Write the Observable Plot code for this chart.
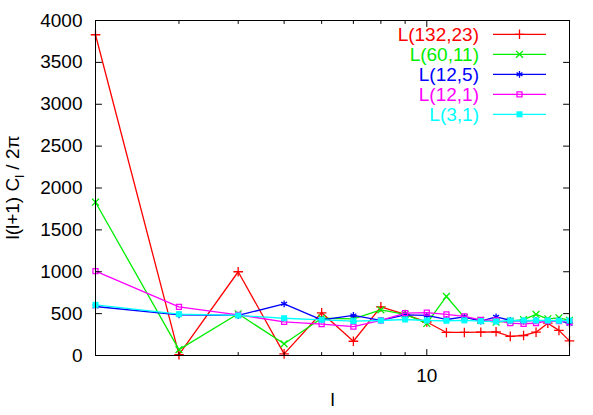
<!DOCTYPE html>
<html><head><meta charset="utf-8">
<script src="https://cdn.jsdelivr.net/npm/d3@7"></script>
<script src="https://cdn.jsdelivr.net/npm/@observablehq/plot@0.6"></script>
<style>body{margin:0;background:#fff}</style>
</head><body><div id="chart"></div>
<script>
// multipole l
const ells = [2,3,4,5,6,7,8,9,10,11,12,13,14,15,16,17,18,19,20];
// series
const seriesNames = ["L(132,23)","L(60,11)","L(12,5)","L(12,1)","L(3,1)"];
const seriesColors = ["#ff0000","#00ee00","#0000ff","#ff00ff","#00ffff"];
const seriesSymbols = ["plus","times","asterisk","square2","square"];
const valsL132_23 = [3830,10,1000,20,510,170,580,490,400,275,275,278,283,228,239,278,386,300,175];
const valsL60_11  = [1830,70,498,140,445,438,545,490,383,705,455,420,398,410,428,490,438,450,420];
const valsL12_5   = [585,486,478,617,425,478,420,486,478,430,462,410,462,420,410,420,410,418,378];
const valsL12_1   = [1007,581,486,402,374,345,420,507,512,490,466,425,420,386,378,388,410,410,398];
const valsL3_1    = [605,493,478,445,426,410,418,430,418,415,420,410,405,418,418,418,418,415,418];
const seriesValues = [valsL132_23, valsL60_11, valsL12_5, valsL12_1, valsL3_1];
// ticks
const yTicks = [0,500,1000,1500,2000,2500,3000,3500,4000];
const xMajorTicks = [10];
const xMinorTicks = [3,4,5,6,7,8,9];

const tables = seriesValues.map((vals, s) => ells.map((l, i) => ({l, v: vals[i], s})));

const tickShape = {draw(ctx, l) { ctx.moveTo(0, 0); ctx.lineTo(0, -l); }};
const tickOpts = {anchor: "start", shape: tickShape, stroke: "black", strokeWidth: 1};
const LW = 1.3;

const marks = [];
tables.forEach((data, s) => {
  marks.push(Plot.line(data, {x: "l", y: "v", stroke: seriesColors[s], strokeWidth: LW}));
  const filled = seriesSymbols[s] === "square";
  marks.push(Plot.dot(data, {
    x: "l", y: "v", symbol: seriesSymbols[s],
    r: filled ? 3.4 : 3.2,
    fill: filled ? seriesColors[s] : "none",
    stroke: filled ? "none" : seriesColors[s],
    strokeWidth: LW
  }));
});

const chart = Plot.plot({
  width: 593, height: 415,
  marginTop: 20, marginRight: 24, marginBottom: 60, marginLeft: 95,
  style: {fontFamily: "'Liberation Sans', Arial, Helvetica, sans-serif", fontSize: "19px", background: "white", color: "black"},
  x: {type: "log", domain: [2, 20], axis: null},
  y: {domain: [0, 4000], axis: null},
  marks: [
    ...marks,
    Plot.frame({stroke: "black", strokeWidth: 1}),
    // inward ticks
    Plot.vectorY(yTicks, {...tickOpts, frameAnchor: "left", rotate: 90, length: 6}),
    Plot.vectorY(yTicks, {...tickOpts, frameAnchor: "right", rotate: 270, length: 6}),
    Plot.vectorX(xMajorTicks, {...tickOpts, frameAnchor: "bottom", rotate: 0, length: 6}),
    Plot.vectorX(xMajorTicks, {...tickOpts, frameAnchor: "top", rotate: 180, length: 6}),
    Plot.vectorX(xMinorTicks, {...tickOpts, frameAnchor: "bottom", rotate: 0, length: 3}),
    Plot.vectorX(xMinorTicks, {...tickOpts, frameAnchor: "top", rotate: 180, length: 3}),
    Plot.axisY(yTicks, {tickSize: 0, tickPadding: 13, label: null, fontSize: 19, tickFormat: d => String(d)}),
    Plot.axisX(xMajorTicks, {tickSize: 0, tickPadding: 13, label: null, fontSize: 19, tickFormat: d => String(d)}),
    Plot.text(["l"], {frameAnchor: "bottom", dy: 50, fontSize: 19, fill: "black"})
  ]
});
document.getElementById("chart").appendChild(chart);

const svg = d3.select(chart);
// y label with subscript
const yl = svg.append("text")
  .attr("transform", "translate(19,187.5) rotate(-90)")
  .attr("text-anchor", "middle")
  .attr("font-size", 19)
  .attr("fill", "black");
yl.append("tspan").text("l(l+1) C");
yl.append("tspan").attr("dy", 5).attr("font-size", 13).text("l");
yl.append("tspan").attr("dy", -5).attr("font-size", 19).text("\u00a0/ 2\u03c0");

// legend
const symMap = {plus: d3.symbolPlus, times: d3.symbolTimes, asterisk: d3.symbolAsterisk, square2: d3.symbolSquare2, square: d3.symbolSquare};
const lg = svg.append("g");
seriesNames.forEach((name, i) => {
  const y = 34.3 + 20 * i;
  lg.append("text").attr("x", 479).attr("y", y).attr("dy", "0.35em")
    .attr("text-anchor", "end").attr("font-size", 19).attr("fill", seriesColors[i]).text(name);
  lg.append("line").attr("x1", 493).attr("x2", 546).attr("y1", y).attr("y2", y)
    .attr("stroke", seriesColors[i]).attr("stroke-width", LW);
  const filled = seriesSymbols[i] === "square";
  const r = filled ? 3.4 : 3.2;
  lg.append("path").attr("transform", `translate(519.5,${y})`)
    .attr("d", d3.symbol(symMap[seriesSymbols[i]], Math.PI * r * r)())
    .attr("fill", filled ? seriesColors[i] : "none")
    .attr("stroke", filled ? "none" : seriesColors[i]).attr("stroke-width", LW);
});
</script>
</body></html>
